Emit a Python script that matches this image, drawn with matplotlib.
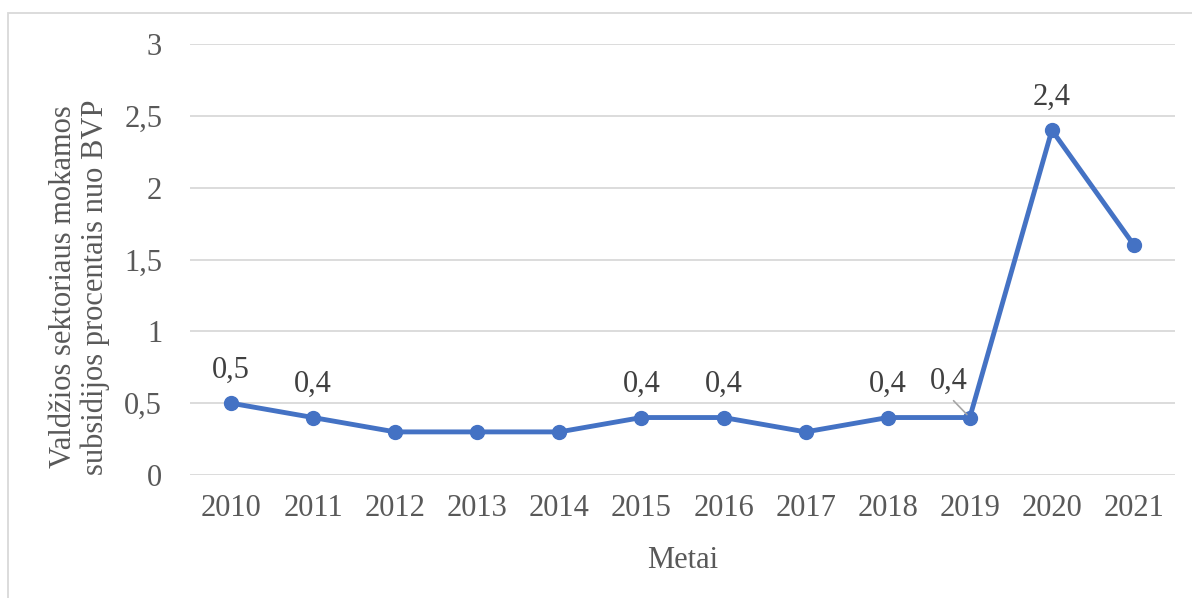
import numpy as np
import matplotlib.pyplot as plt
import matplotlib.patches as patches

plt.rcParams['font.family'] = ['Liberation Serif', 'DejaVu Serif']

# Duomenys
metai = ['2010', '2011', '2012', '2013', '2014', '2015', '2016', '2017', '2018', '2019', '2020', '2021']
subsidijos = [0.5, 0.4, 0.3, 0.3, 0.3, 0.4, 0.4, 0.3, 0.4, 0.4, 2.4, 1.6]
# kuriems taskams rodomos reiksmes
su_etikete = [0, 1, 5, 6, 8, 9, 10]

spalva = '#4472C4'
tekstas = '#595959'

fig = plt.figure(figsize=(11.92, 5.98), dpi=100)
ax = fig.add_axes([190/1192, 1 - 475/598, 985/1192, 431/598])

x = np.arange(len(metai))
ax.plot(x, subsidijos, color=spalva, lw=3.5, marker='o', ms=10, zorder=3)

ax.set_xlim(-0.5, len(metai) - 0.5)
ax.set_ylim(0, 3)
ax.set_yticks([0, 0.5, 1, 1.5, 2, 2.5, 3])
ax.set_yticklabels(['0', '0,5', '1', '1,5', '2', '2,5', '3'])
ax.set_xticks(x)
ax.set_xticklabels(metai)
ax.tick_params(axis='both', length=0, labelsize=22, labelcolor=tekstas)
ax.tick_params(axis='y', pad=20)
ax.tick_params(axis='x', pad=14)
ax.grid(axis='y', color='#D9D9D9', lw=1.3)
ax.set_axisbelow(True)
for s in ax.spines.values():
    s.set_visible(False)

ax.set_xlabel('Metai', fontsize=22, color=tekstas, labelpad=16)
ax.set_ylabel('Valdžios sektoriaus mokamos\nsubsidijos procentais nuo BVP',
              fontsize=22, color=tekstas, linespacing=1.1)
ax.yaxis.set_label_coords(-0.081, 0.436)

# reiksmiu etiketes
for i in su_etikete:
    txt = ('%.1f' % subsidijos[i]).replace('.', ',')
    if i == 9:
        ax.annotate(txt, xy=(x[i], subsidijos[i]), xytext=(-15, 26),
                    textcoords='offset points', ha='center', va='center',
                    fontsize=22, color='#404040',
                    arrowprops=dict(arrowstyle='-', color='#A6A6A6', lw=1.2,
                                    relpos=(0.5, 0), shrinkA=2, shrinkB=3))
    else:
        ax.annotate(txt, xy=(x[i], subsidijos[i]), xytext=(0, 24),
                    textcoords='offset points', ha='center', va='center',
                    fontsize=22, color='#404040')

# remelis aplink diagrama
fig.patches.append(patches.Rectangle((8/1192, -0.05), 1.1, 1 - 13/598 + 0.05,
                                     transform=fig.transFigure, fill=False,
                                     edgecolor='#D9D9D9', lw=1.3))

fig.savefig('out.png', dpi=100)
